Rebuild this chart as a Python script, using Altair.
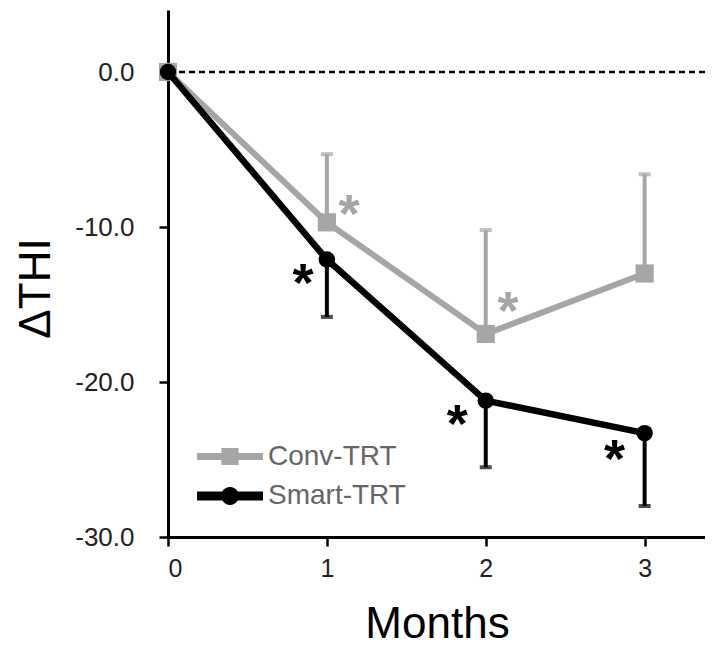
import altair as alt
import pandas as pd

# ---- data ----
months = [0, 1, 2, 3]
conv_mean = [0.0, -9.7, -16.9, -13.0]
conv_err_end = [0.0, -5.3, -10.2, -6.6]
smart_mean = [0.0, -12.1, -21.2, -23.3]
smart_err_end = [0.0, -15.8, -25.5, -28.0]

series_names = ["Conv-TRT", "Smart-TRT"]
series_colors = ["#a6a6a6", "#000000"]

conv_star_month = [1.14, 2.14]
conv_star_value = [-8.8, -15.0]
smart_star_month = [0.85, 1.82, 2.81]
smart_star_value = [-13.2, -22.3, -24.6]

x_ticks = [0, 1, 2, 3]
y_ticks = [0, -10, -20, -30]

FONT = "Liberation Sans"

conv = pd.DataFrame({"month": months, "value": conv_mean, "err": conv_err_end})
smart = pd.DataFrame({"month": months, "value": smart_mean, "err": smart_err_end})
conv_e = conv[conv["month"] > 0]
smart_e = smart[smart["month"] > 0]
conv_stars = pd.DataFrame({"month": conv_star_month, "value": conv_star_value})
smart_stars = pd.DataFrame({"month": smart_star_month, "value": smart_star_value})
zero = pd.DataFrame({"value": [0.0]})

x_scale = alt.Scale(domain=[0, 3.38], nice=False, zero=False)
y_scale = alt.Scale(domain=[-30, 4], nice=False, zero=False)

x_enc = alt.X("month:Q", title="Months", scale=x_scale,
              axis=alt.Axis(values=x_ticks, format="d", titleBaseline="alphabetic",
                            titleY=100, titleX=269))
y_enc = alt.Y("value:Q", title="ΔTHI", scale=y_scale,
              axis=alt.Axis(values=y_ticks,
                            labelExpr="datum.value == 0 ? '0.0' : '-' + format(abs(datum.value), '.1f')",
                            titleBaseline="alphabetic", titleX=-119, titleY=278))

zero_line = alt.Chart(zero).mark_rule(color="black", strokeWidth=2.5, strokeDash=[6, 4]).encode(y=y_enc)


def series_layers(df, dfe, color, shape, size, lw):
    bars = alt.Chart(dfe).mark_rule(color=color, strokeWidth=4).encode(x=x_enc, y=y_enc, y2="err:Q")
    caps = alt.Chart(dfe).mark_tick(color=color, orient="horizontal", size=12, thickness=4).encode(
        x=x_enc, y=alt.Y("err:Q", title="ΔTHI", scale=y_scale))
    line = alt.Chart(df).mark_line(color=color, strokeWidth=lw).encode(x=x_enc, y=y_enc)
    pts = alt.Chart(df).mark_point(color=color, filled=True, opacity=1, shape=shape, size=size).encode(x=x_enc, y=y_enc)
    return bars, caps, line, pts


cb, cc, cl, cp = series_layers(conv, conv_e, series_colors[0], "square", 330, 6)
sb, sc, sl, sp = series_layers(smart, smart_e, series_colors[1], "circle", 270, 6.5)


def star_layer(df, color):
    return alt.Chart(df).mark_text(font=FONT, fontSize=54, fontWeight="bold", baseline="alphabetic",
                                   dy=24, color=color).encode(x=x_enc, y=y_enc, text=alt.value("*"))


cs = star_layer(conv_stars, series_colors[0])
ss = star_layer(smart_stars, series_colors[1])

sq_path = ("M-1,-0.106 L-0.26,-0.106 L-0.26,-0.26 L0.26,-0.26 L0.26,-0.106 L1,-0.106 "
           "L1,0.106 L0.26,0.106 L0.26,0.26 L-0.26,0.26 L-0.26,0.106 L-1,0.106 Z")
ci_path = ("M-1,-0.136 L-0.234,-0.136 A0.27,0.27 0 0,1 0.234,-0.136 L1,-0.136 L1,0.136 "
           "L0.234,0.136 A0.27,0.27 0 0,1 -0.234,0.136 L-1,0.136 Z")
symbol_paths = [sq_path, ci_path]
legend_tops = [413.5, 453.0]


def legend_layer(i):
    name = series_names[i]
    df = pd.DataFrame({"month": [0], "value": [0.0], "series": [name]})
    cfg = alt.Legend(title=None, orient="none", legendX=29, legendY=legend_tops[i], padding=0,
                     symbolSize=4356, symbolStrokeWidth=0, symbolOpacity=1,
                     labelFontSize=28, labelFont=FONT, labelColor="#666666", labelOffset=5)
    return alt.Chart(df).mark_point(filled=True, opacity=0).encode(
        x=x_enc, y=y_enc,
        color=alt.Color("series:N", scale=alt.Scale(domain=[name], range=[series_colors[i]]), legend=cfg),
        shape=alt.Shape("series:N", scale=alt.Scale(domain=[name], range=[symbol_paths[i]]), legend=cfg))


chart = alt.layer(zero_line, cb, cc, cl, cp, sl, sp, sb, sc, cs, ss,
                  legend_layer(0), legend_layer(1)).resolve_scale(
    color="independent", shape="independent"
).properties(
    width=537, height=527,
    autosize=alt.AutoSizeParams(type="none"),
    padding={"left": 160, "top": 2, "right": 0, "bottom": 110},
).configure_view(stroke=None).configure_axis(
    grid=False, domainColor="black", domainWidth=3, tickColor="black", tickWidth=2.5, tickSize=9,
    labelFont=FONT, labelFontSize=26, labelColor="#222222", titleFont=FONT, titleFontSize=44,
    titleFontWeight="normal", titleColor="black",
).configure_axisY(labelPadding=25).configure_axisX(labelPadding=10, labelFontSize=25)

chart.save("out.html", embed_options={"renderer": "svg", "actions": False})
